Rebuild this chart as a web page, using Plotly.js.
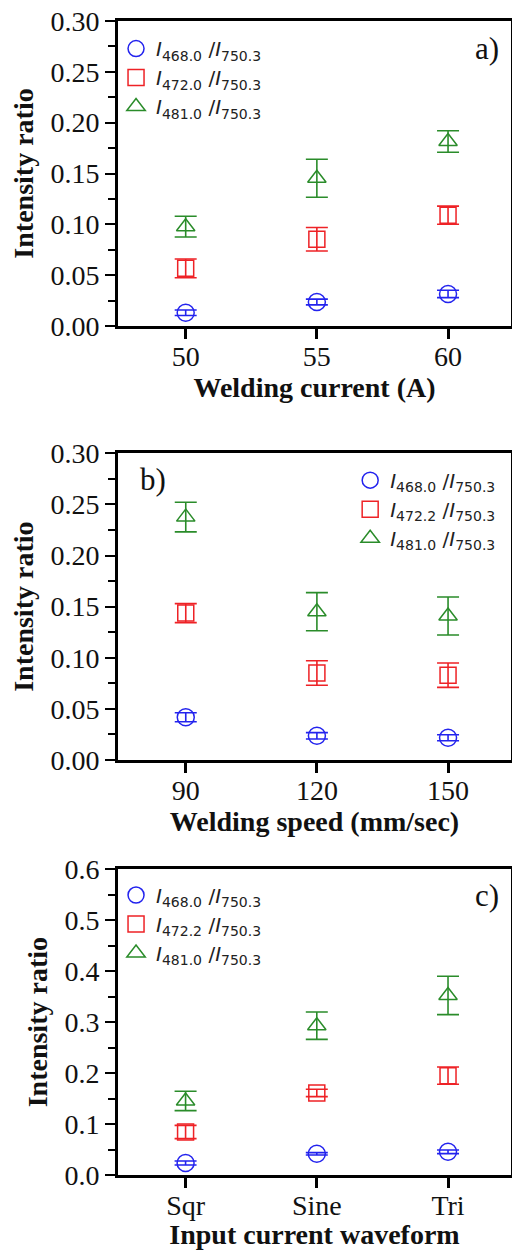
<!DOCTYPE html>
<html>
<head>
<meta charset="utf-8">
<script src="https://cdn.plot.ly/plotly-3.0.1.min.js"></script>
<style>html,body{margin:0;padding:0;background:#fff;}#chart{width:512px;height:1250px;}</style>
</head>
<body>
<div id="chart"></div>
<script>
// ---- Data ----
const currentA = [50, 55, 60];
const a468 = [0.0131, 0.0236, 0.0315];
const a468Err = [0.0027, 0.0028, 0.0036];
const a472 = [0.0567, 0.0853, 0.109];
const a472Err = [0.0092, 0.0116, 0.0089];
const a481 = [0.0977, 0.1453, 0.1815];
const a481Err = [0.0102, 0.0187, 0.0106];

const speedB = [90, 120, 150];
const b468 = [0.0419, 0.0237, 0.0218];
const b468Err = [0.0044, 0.0031, 0.0029];
const b472 = [0.1437, 0.0851, 0.083];
const b472Err = [0.0093, 0.012, 0.0119];
const b481 = [0.2376, 0.1451, 0.1409];
const b481Err = [0.0145, 0.0186, 0.0186];

const waveC = ["Sqr", "Sine", "Tri"];
const c468 = [0.0236, 0.0416, 0.0455];
const c468Err = [0.004, 0.0023, 0.0036];
const c472 = [0.0844, 0.161, 0.195];
const c472Err = [0.013, 0.0072, 0.017];
const c481 = [0.1453, 0.293, 0.3524];
const c481Err = [0.019, 0.0268, 0.0377];

const namesA = ["<i>I</i><sub>468.0</sub> /<i>I</i><sub>750.3</sub>", "<i>I</i><sub>472.0</sub> /<i>I</i><sub>750.3</sub>", "<i>I</i><sub>481.0</sub> /<i>I</i><sub>750.3</sub>"];
const namesBC = ["<i>I</i><sub>468.0</sub> /<i>I</i><sub>750.3</sub>", "<i>I</i><sub>472.2</sub> /<i>I</i><sub>750.3</sub>", "<i>I</i><sub>481.0</sub> /<i>I</i><sub>750.3</sub>"];

// ---- Styles ----
const colors = ["#2323ee", "#ee2226", "#2a8c2a"];
const symbols = ["circle-open", "square-open", "triangle-up-open"];
const sizes = [17, 16, 16];

function tr(x, y, err, i, name, xa, ya, leg) {
  return {
    type: "scatter", mode: "markers", x: x, y: y, name: name,
    xaxis: xa, yaxis: ya, legend: leg,
    marker: {symbol: symbols[i], size: sizes[i], color: colors[i], line: {color: colors[i], width: 1.5}},
    error_y: {type: "data", array: err, visible: true, color: colors[i], thickness: 1.6, width: 11}
  };
}

const data = [
  tr(currentA, a468, a468Err, 0, namesA[0], "x", "y", "legend"),
  tr(currentA, a472, a472Err, 1, namesA[1], "x", "y", "legend"),
  tr(currentA, a481, a481Err, 2, namesA[2], "x", "y", "legend"),
  tr(speedB, b468, b468Err, 0, namesBC[0], "x2", "y2", "legend2"),
  tr(speedB, b472, b472Err, 1, namesBC[1], "x2", "y2", "legend2"),
  tr(speedB, b481, b481Err, 2, namesBC[2], "x2", "y2", "legend2"),
  tr(waveC, c468, c468Err, 0, namesBC[0], "x3", "y3", "legend3"),
  tr(waveC, c472, c472Err, 1, namesBC[1], "x3", "y3", "legend3"),
  tr(waveC, c481, c481Err, 2, namesBC[2], "x3", "y3", "legend3")
];

const serif = "Liberation Serif, Times New Roman, serif";
const tickFont = {family: serif, size: 28, color: "#111"};
const titleFont = {family: serif, size: 28, color: "#111", weight: "bold"};

function xax(anchor, title, range, extra) {
  return Object.assign({
    anchor: anchor, domain: [0, 1], range: range,
    showline: true, linewidth: 3, linecolor: "#000", mirror: true,
    ticks: "outside", ticklen: 10, tickwidth: 3, tickcolor: "#000",
    ticklabelstandoff: -7,
    showgrid: false, zeroline: false, tickfont: tickFont,
    title: {text: title, font: titleFont, standoff: 4}
  }, extra || {});
}
function yax(anchor, domain, range, dtick, fmt, minorDtick) {
  return {
    anchor: anchor, domain: domain, range: range, dtick: dtick, tick0: 0, tickformat: fmt,
    showline: true, linewidth: 3, linecolor: "#000", mirror: true,
    ticks: "outside", ticklen: 10, tickwidth: 2, tickcolor: "#000",
    minor: {dtick: minorDtick, tick0: 0, ticks: "outside", ticklen: 7, tickwidth: 2, tickcolor: "#000", showgrid: false},
    showgrid: false, zeroline: false, tickfont: tickFont,
    title: {text: "Intensity ratio", font: titleFont, standoff: 9}
  };
}

const legFont = {family: "DejaVu Sans, sans-serif", size: 20, color: "#222"};

const layout = {
  width: 512, height: 1250,
  margin: {l: 118, r: 1, t: 21, b: 75},
  paper_bgcolor: "#fff", plot_bgcolor: "#fff",
  xaxis: xax("y", "Welding current (A)", [47.42, 62.4], {tickvals: currentA}),
  yaxis: yax("x", [0.7357, 1], [0, 0.30], 0.05, ".2f", 0.025),
  xaxis2: xax("y2", "Welding speed (mm/sec)", [74.5, 164.4], {tickvals: speedB}),
  yaxis2: yax("x2", [0.3596, 0.6254], [0, 0.30], 0.05, ".2f", 0.025),
  xaxis3: xax("y3", "Input current waveform", [-0.515, 2.48], {type: "category"}),
  yaxis3: yax("x3", [0, 0.2649], [0, 0.6], 0.1, ".1f", 0.05),
  legend: {x: -0.005, xanchor: "left", y: 0.993, yanchor: "top", bgcolor: "rgba(0,0,0,0)", font: legFont, itemwidth: 30},
  legend2: {x: 0.975, xanchor: "right", y: 0.619, yanchor: "top", bgcolor: "rgba(0,0,0,0)", font: legFont, itemwidth: 30},
  legend3: {x: -0.005, xanchor: "left", y: 0.2595, yanchor: "top", bgcolor: "rgba(0,0,0,0)", font: legFont, itemwidth: 30},
  annotations: [
    {text: "a)", xref: "paper", yref: "paper", x: 0.939, y: 0.9766, xanchor: "center", yanchor: "middle", showarrow: false, font: {family: serif, size: 31, color: "#111"}},
    {text: "b)", xref: "paper", yref: "paper", x: 0.089, y: 0.6023, xanchor: "center", yanchor: "middle", showarrow: false, font: {family: serif, size: 31, color: "#111"}},
    {text: "c)", xref: "paper", yref: "paper", x: 0.939, y: 0.2426, xanchor: "center", yanchor: "middle", showarrow: false, font: {family: serif, size: 31, color: "#111"}}
  ],
  showlegend: true
};

Plotly.newPlot("chart", data, layout, {staticPlot: true, displayModeBar: false});
</script>
</body>
</html>
